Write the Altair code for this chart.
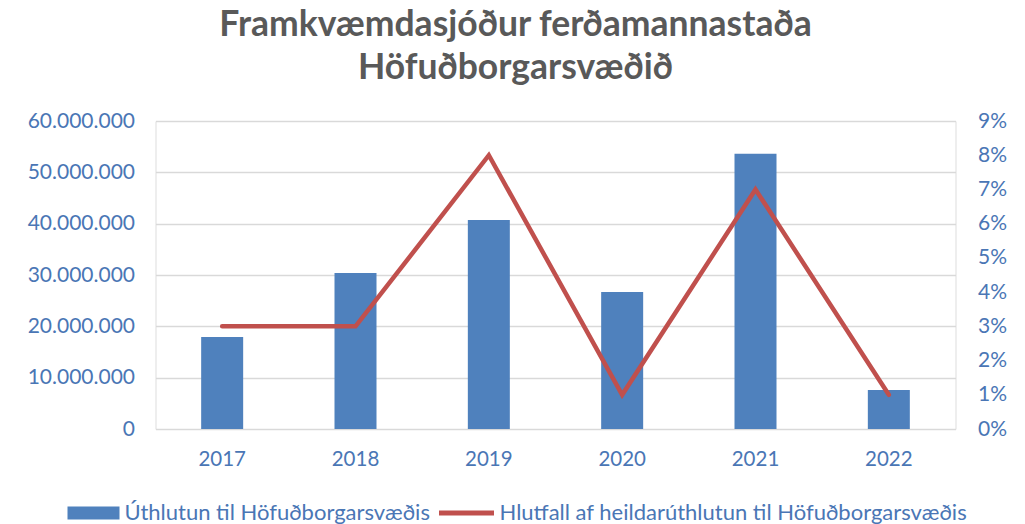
import altair as alt
import pandas as pd

years = ["2017", "2018", "2019", "2020", "2021", "2022"]
amounts = [17900000, 30400000, 40700000, 26700000, 53600000, 7600000]
shares = [0.03, 0.03, 0.08, 0.01, 0.07, 0.01]
bar_name = "Úthlutun til Höfuðborgarsvæðis"
line_name = "Hlutfall af heildarúthlutun til Höfuðborgarsvæðis"
left_ticks = [0, 10000000, 20000000, 30000000, 40000000, 50000000, 60000000]
right_ticks = [0, 0.01, 0.02, 0.03, 0.04, 0.05, 0.06, 0.07, 0.08, 0.09]

df = pd.DataFrame({
    "year": years,
    "amount": amounts,
    "share": shares,
    "s_bar": [bar_name] * len(years),
    "s_line": [line_name] * len(years),
})

BLUE = "#4F81BD"
RED = "#C0504D"
LABEL = "#4A76B5"
FONT = "Lato"

x = alt.X("year:N", sort=years, title=None,
          scale=alt.Scale(paddingInner=0, paddingOuter=0),
          axis=alt.Axis(labelAngle=0, ticks=False, domain=False, labelPadding=20,
                        labelFont=FONT, labelFontSize=20.5, labelColor=LABEL))

bars = alt.Chart(df).mark_bar(width={"band": 0.315}).encode(
    x=x,
    y=alt.Y("amount:Q", title=None,
            scale=alt.Scale(domain=[0, 60000000], nice=False),
            axis=alt.Axis(values=left_ticks, format=",d", ticks=False, domain=False,
                          labelPadding=21, grid=True, gridColor="#D9D9D9", gridWidth=1.5,
                          labelFont=FONT, labelFontSize=21, labelColor=LABEL)),
    color=alt.Color("s_bar:N", scale=alt.Scale(domain=[bar_name], range=[BLUE]),
                    legend=alt.Legend(title=None, orient="none", legendX=-88, legendY=366,
                                      symbolType="M-1,-0.25H1V0.25H-1Z", symbolSize=2704,
                                      symbolStrokeWidth=0, symbolOpacity=1,
                                      labelFont=FONT, labelFontSize=22, labelColor=LABEL,
                                      labelOffset=5, labelLimit=0, padding=0)),
)

line = alt.Chart(df).mark_line(strokeWidth=4.5, strokeCap="round", strokeJoin="miter").encode(
    x=x,
    y=alt.Y("share:Q", title=None,
            scale=alt.Scale(domain=[0, 0.09], nice=False),
            axis=alt.Axis(values=right_ticks, format=".0%", ticks=False, domain=False,
                          orient="right", labelPadding=22, grid=False,
                          labelFont=FONT, labelFontSize=21, labelColor=LABEL)),
    stroke=alt.Stroke("s_line:N", scale=alt.Scale(domain=[line_name], range=[RED]),
                      legend=alt.Legend(title=None, orient="none", legendX=281, legendY=362,
                                        symbolType="stroke", symbolSize=3025,
                                        symbolStrokeWidth=5,
                                        labelFont=FONT, labelFontSize=22, labelColor=LABEL,
                                        labelOffset=3, labelLimit=0, padding=0)),
)

chart = alt.layer(bars, line).resolve_scale(y="independent").properties(
    width=800,
    height=308,
    autosize=alt.AutoSizeParams(type="none"),
    padding={"left": 147.5, "top": 113, "right": 61.5, "bottom": 95},
    title=alt.TitleParams(
        text=["Framkvæmdasjóður ferðamannastaða", "Höfuðborgarsvæðið"],
        font=FONT, fontSize=35.5, fontWeight="bold", color="#595959",
        anchor="middle", lineHeight=43, offset=24, dx=-40,
    ),
).configure_view(stroke=None).configure(
    locale={"number": {"decimal": ",", "thousands": ".", "grouping": [3],
                       "currency": ["", " kr."]}}
)

chart.save("out.html", embed_options={"renderer": "svg", "actions": False})
